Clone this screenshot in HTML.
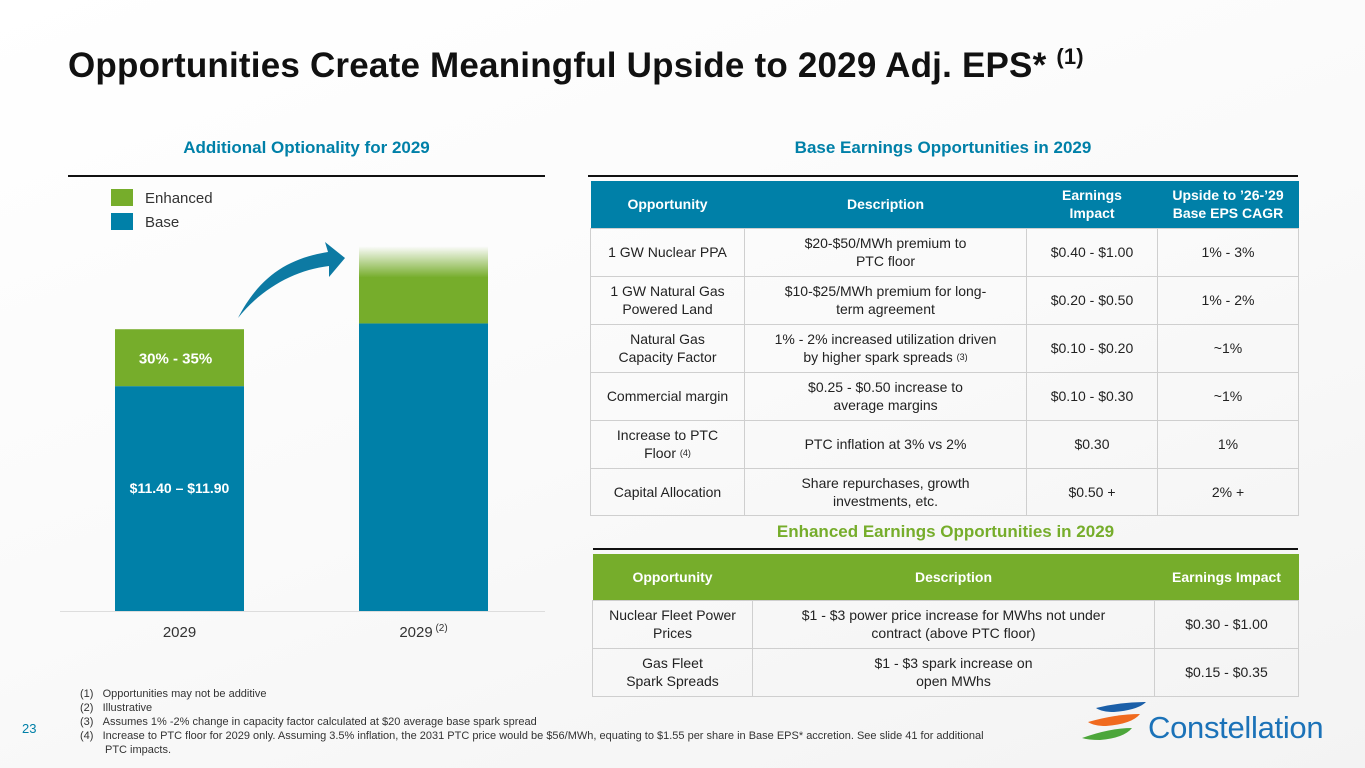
<!DOCTYPE html>
<html><head><meta charset="utf-8">
<style>
*{margin:0;padding:0;box-sizing:border-box}
body{width:1365px;height:768px;position:relative;overflow:hidden;background:linear-gradient(160deg,#fff 0%,#fafafa 50%,#f3f3f3 100%);font-family:"Liberation Sans",sans-serif;color:#222}
.abs{position:absolute}
h1{position:absolute;left:68px;top:46px;font-size:35px;font-weight:bold;color:#111;letter-spacing:0.2px}
h1 sup{font-size:22px;vertical-align:top;position:relative;top:-2px}
.st{position:absolute;font-size:17px;font-weight:bold;text-align:center}
.rule{position:absolute;height:2px;background:#111}
table{position:absolute;border-collapse:collapse;font-size:14px;table-layout:fixed}
td,th{border:1px solid #cfcfcf;text-align:center;vertical-align:middle;padding:0 3px;line-height:18px}
th{color:#fff;font-weight:bold;font-size:14px;border:none}
.t1 th{background:#0080a8}
.t2 th{background:#76ad2b}
.sup{font-size:9px;vertical-align:top}
.fn{position:absolute;left:80px;top:687px;width:910px;font-size:11px;line-height:14px;color:#333}
.fn div{padding-left:25px;text-indent:-25px}
</style></head><body>
<h1>Opportunities Create Meaningful Upside to 2029 Adj. EPS* <sup>(1)</sup></h1>

<div class="st" style="left:68px;width:477px;top:138px;color:#0080a8">Additional Optionality for 2029</div>
<div class="rule" style="left:68px;width:477px;top:175px"></div>
<div class="st" style="left:588px;width:710px;top:138px;color:#0080a8">Base Earnings Opportunities in 2029</div>
<div class="rule" style="left:588px;width:710px;top:175px"></div>

<svg class="abs" style="left:0;top:0" width="560" height="650">
<defs><linearGradient id="fade" x1="0" y1="0" x2="0" y2="1"><stop offset="0" stop-color="#76ad2b" stop-opacity="0"/><stop offset="1" stop-color="#76ad2b" stop-opacity="1"/></linearGradient></defs>
<g id="bars"></g>
<line x1="60" y1="611.5" x2="545" y2="611.5" stroke="#ddd"/>
<path d="M238 318 C260 275 290 258 328 252 L325 242 L345 258 L329 277 L329 266 C295 270 262 288 238 318Z" fill="#0d7aa3"/>
<rect x="111" y="189" width="22" height="17" fill="#76ad2b"/>
<text x="145" y="203" font-size="15" fill="#333">Enhanced</text>
<rect x="111" y="213" width="22" height="17" fill="#0080a8"/>
<text x="145" y="227" font-size="15" fill="#333">Base</text>
</svg>
<script>
const categories=["2029","2029"];
const baseValues=[11.65,14.9];
const enhancedValues=[2.95,4.0];
const baseLabels=["$11.40 – $11.90",""];
const enhancedLabels=["30% - 35%",""];
const fadeTop=[false,true];
const NS="http://www.w3.org/2000/svg";
const y0=611,k=19.3,barW=129,xs=[115,359];
const g=document.getElementById('bars');
function yv(v){return y0-v*k;}
function mk(t,a){const e=document.createElementNS(NS,t);for(const n in a)e.setAttribute(n,a[n]);return e;}
categories.forEach((c,i)=>{
 const x=xs[i],bt=yv(baseValues[i]),et=yv(baseValues[i]+enhancedValues[i]);
 const b=mk('rect',{x:x,y:bt,width:barW,height:y0-bt,fill:'#0080a8'});
 
 
 g.appendChild(b);
 if(fadeTop[i]){
  const h=bt-et,fh=h*0.4;
  const e1=mk('rect',{x:x,y:et+fh,width:barW,height:h-fh,fill:'#76ad2b'});
  
  
  g.appendChild(e1);
  const e2=mk('rect',{x:x,y:et,width:barW,height:fh+0.5,fill:'url(#fade)'});
  
  
  g.appendChild(e2);
 }else{
  const e1=mk('rect',{x:x,y:et,width:barW,height:bt-et,fill:'#76ad2b'});
  
  
  g.appendChild(e1);
 }
 if(enhancedLabels[i]){const t=mk('text',{x:x+barW/2-4,y:(bt+et)/2+6,'font-size':15,'font-weight':'bold',fill:'#fff','text-anchor':'middle'});t.textContent=enhancedLabels[i];
  
  g.appendChild(t);}
 if(baseLabels[i]){const t=mk('text',{x:x+barW/2,y:y0-118,'font-size':14,'font-weight':'bold',fill:'#fff','text-anchor':'middle'});t.textContent=baseLabels[i];
  
  g.appendChild(t);}
 const l=mk('text',{x:x+barW/2,y:637,'font-size':15,fill:'#333','text-anchor':'middle'});l.textContent=c;
 
 
 if(i==1){const s=mk('tspan',{'font-size':10,dy:-6});s.textContent=' (2)';l.appendChild(s);}
 g.appendChild(l);
});
</script>

<table class="t1" style="left:590px;top:181px;width:708px">
<colgroup><col style="width:154px"><col style="width:282px"><col style="width:131px"><col style="width:141px"></colgroup>
<tr style="height:47px"><th>Opportunity</th><th>Description</th><th>Earnings<br>Impact</th><th>Upside to ’26-’29<br>Base EPS CAGR</th></tr>
<tr style="height:48px"><td>1 GW Nuclear PPA</td><td>$20-$50/MWh premium to<br>PTC floor</td><td>$0.40 - $1.00</td><td>1% - 3%</td></tr>
<tr style="height:48px"><td>1 GW Natural Gas<br>Powered Land</td><td>$10-$25/MWh premium for long-<br>term agreement</td><td>$0.20 - $0.50</td><td>1% - 2%</td></tr>
<tr style="height:48px"><td>Natural Gas<br>Capacity Factor</td><td>1% - 2% increased utilization driven<br>by higher spark spreads <span class="sup">(3)</span></td><td>$0.10 - $0.20</td><td>~1%</td></tr>
<tr style="height:48px"><td>Commercial margin</td><td>$0.25 - $0.50 increase to<br>average margins</td><td>$0.10 - $0.30</td><td>~1%</td></tr>
<tr style="height:48px"><td>Increase to PTC<br>Floor <span class="sup">(4)</span></td><td>PTC inflation at 3% vs 2%</td><td>$0.30</td><td>1%</td></tr>
<tr style="height:47px"><td>Capital Allocation</td><td>Share repurchases, growth<br>investments, etc.</td><td>$0.50 +</td><td>2% +</td></tr>
</table>

<div class="st" style="left:593px;width:705px;top:522px;color:#76ad2b">Enhanced Earnings Opportunities in 2029</div>
<div class="rule" style="left:593px;width:705px;top:548px"></div>

<table class="t2" style="left:592px;top:554px;width:706px">
<colgroup><col style="width:160px"><col style="width:402px"><col style="width:144px"></colgroup>
<tr style="height:46px"><th>Opportunity</th><th>Description</th><th>Earnings Impact</th></tr>
<tr style="height:48px"><td>Nuclear Fleet Power<br>Prices</td><td>$1 - $3 power price increase for MWhs not under<br>contract (above PTC floor)</td><td>$0.30 - $1.00</td></tr>
<tr style="height:48px"><td>Gas Fleet<br>Spark Spreads</td><td>$1 - $3 spark increase on<br>open MWhs</td><td>$0.15 - $0.35</td></tr>
</table>

<div class="abs" style="left:22px;top:721px;font-size:13px;color:#0080a8">23</div>
<div class="fn">
<div>(1)&nbsp;&nbsp;&nbsp;Opportunities may not be additive</div>
<div>(2)&nbsp;&nbsp;&nbsp;Illustrative</div>
<div>(3)&nbsp;&nbsp;&nbsp;Assumes 1% -2% change in capacity factor calculated at $20 average base spark spread</div>
<div>(4)&nbsp;&nbsp;&nbsp;Increase to PTC floor for 2029 only. Assuming 3.5% inflation, the 2031 PTC price would be $56/MWh, equating to $1.55 per share in Base EPS* accretion. See slide 41 for additional PTC impacts.</div>
</div>

<svg class="abs" style="left:1080px;top:700px" width="70" height="50">
<path d="M16 8 Q40 2 66 2 Q58 10 34 12 Q22 12 16 8Z" fill="#1b5fa8"/>
<path d="M8 22 Q36 14 60 14 Q52 24 26 26 Q14 26 8 22Z" fill="#f06a1e"/>
<path d="M2 38 Q30 28 52 28 Q44 38 20 40 Q8 40 2 38Z" fill="#4ca63a"/>
</svg>
<div class="abs" style="left:1148px;top:710px;font-size:31px;color:#1b72b8;letter-spacing:-0.3px">Constellation</div>
</body></html>
